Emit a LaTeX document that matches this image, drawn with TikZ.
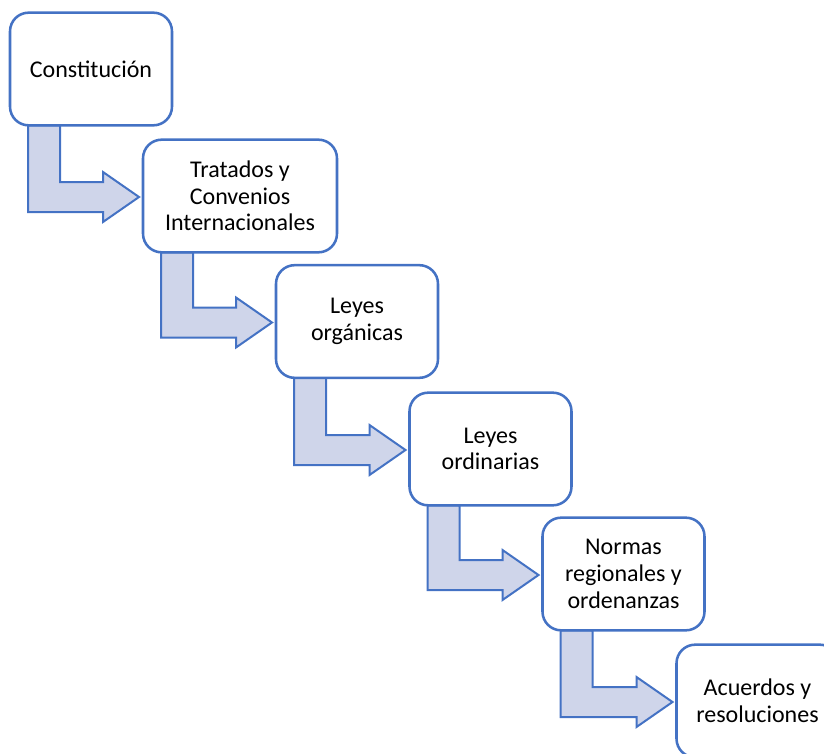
\documentclass[tikz,border=0pt]{standalone}
\usepackage{fontspec}
\setmainfont{Carlito}
\usetikzlibrary{calc, backgrounds}
\definecolor{azul}{HTML}{4472C4}
\definecolor{lila}{HTML}{CFD5EA}

\begin{document}
\begin{tikzpicture}[x=0.75pt, y=-0.75pt,
    caja/.style={draw=azul, fill=white, line width=1.9pt, rounded corners=14pt, outer sep=0pt,
        minimum width=121.5pt, minimum height=84.5pt, align=center, inner sep=2pt,
        font=\fontsize{18pt}{20pt}\selectfont},
    flecha/.style={draw=azul, fill=lila, line width=1.5pt, line join=miter}]

    \useasboundingbox (0,0) rectangle (824,753);

    % Draw the boxes
    \node[caja] (Constitucion) at (10+81, 69) {Constitución};
    \node[caja, minimum width=145.5pt] (Tratados) at (143+97, 196) {Tratados y\\Convenios\\Internacionales};
    \node[caja] (Organicas) at (277+80, 321.5) {Leyes\\orgánicas};
    \node[caja] (Ordinarias) at (409+81.5, 449) {Leyes\\ordinarias};
    \node[caja] (Regionales) at (542+81.5, 574) {Normas\\regionales y\\ordenanzas};
    \node[caja] (Acuerdos) at (676+81.5, 701) {Acuerdos y\\resoluciones};

    % Draw the bent arrows behind the boxes
    \begin{scope}[on background layer]
        \draw[flecha] ($(Constitucion.south west)+(18,0)$) |- ($(Tratados.west)+(-40,16)$) -- ++(0,10)
            -- ($(Tratados.west)+(-4,1)$) -- ++(-36,-25) -- ++(0,10) -| ($(Constitucion.south west)+(50,0)$) -- cycle;
        \draw[flecha] ($(Tratados.south west)+(18,0)$) |- ($(Organicas.west)+(-40,16)$) -- ++(0,10)
            -- ($(Organicas.west)+(-4,1)$) -- ++(-36,-25) -- ++(0,10) -| ($(Tratados.south west)+(50,0)$) -- cycle;
        \draw[flecha] ($(Organicas.south west)+(18,0)$) |- ($(Ordinarias.west)+(-40,16)$) -- ++(0,10)
            -- ($(Ordinarias.west)+(-4,1)$) -- ++(-36,-25) -- ++(0,10) -| ($(Organicas.south west)+(50,0)$) -- cycle;
        \draw[flecha] ($(Ordinarias.south west)+(18,0)$) |- ($(Regionales.west)+(-40,16)$) -- ++(0,10)
            -- ($(Regionales.west)+(-4,1)$) -- ++(-36,-25) -- ++(0,10) -| ($(Ordinarias.south west)+(50,0)$) -- cycle;
        \draw[flecha] ($(Regionales.south west)+(18,0)$) |- ($(Acuerdos.west)+(-40,16)$) -- ++(0,10)
            -- ($(Acuerdos.west)+(-4,1)$) -- ++(-36,-25) -- ++(0,10) -| ($(Regionales.south west)+(50,0)$) -- cycle;
    \end{scope}

\end{tikzpicture}
\end{document}
